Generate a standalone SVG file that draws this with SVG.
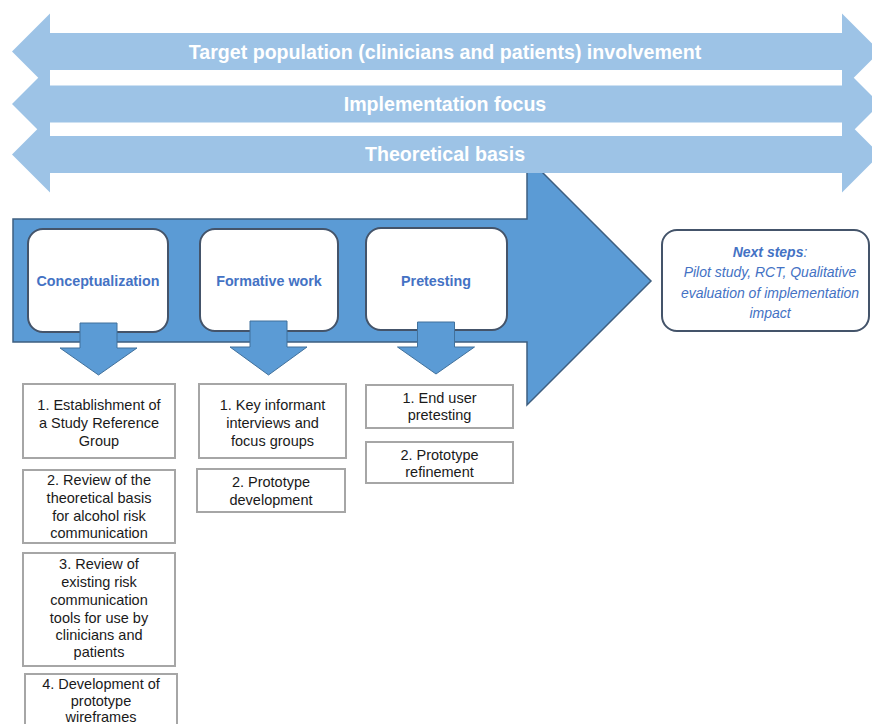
<svg xmlns="http://www.w3.org/2000/svg" width="872" height="724" viewBox="0 0 872 724">
  <style>
    .band { fill: #9dc3e6; }
    .band-label { font-family: "Liberation Sans", Arial, sans-serif; font-size: 19.6px; font-weight: bold; fill: #ffffff; text-anchor: middle; }
    .flow { fill: #5b9bd5; stroke: #3e5f80; stroke-width: 1.5; }
    .stage { fill: #ffffff; stroke: #44546a; stroke-width: 2; }
    .stage-label { font-family: "Liberation Sans", Arial, sans-serif; font-size: 14.3px; font-weight: bold; fill: #4472c4; text-anchor: middle; }
    .down { fill: #5b9bd5; stroke: #41719c; stroke-width: 1; }
    .task { fill: #ffffff; stroke: #a6a6a6; stroke-width: 2; }
    .task-text { font-family: "Liberation Sans", Arial, sans-serif; font-size: 14.5px; fill: #1a1a1a; text-anchor: middle; }
    .next-text { font-family: "Liberation Sans", Arial, sans-serif; font-size: 14px; font-style: italic; fill: #4472c4; text-anchor: middle; }
  </style>

  <rect width="872" height="724" fill="#ffffff"/>

  <!-- main process arrow -->
  <g id="process-arrow">
    <path class="flow" d="M13,219 H527 V157 L651,281 L527,405 V342 H13 Z"/>
  </g>

  <!-- cross-cutting double-headed bands -->
  <g id="band-target">
    <path class="band" d="M12,51.5 L50,13.5 V33 H842 V13.5 L880,51.5 L842,89.5 V70 H50 V89.5 Z"/>
    <text class="band-label" x="445" y="58.5">Target population (clinicians and patients) involvement</text>
  </g>
  <g id="band-implementation">
    <path class="band" d="M12,104 L50,66 V85.5 H842 V66 L880,104 L842,142 V122.5 H50 V142 Z"/>
    <text class="band-label" x="445" y="111">Implementation focus</text>
  </g>
  <g id="band-theory">
    <path class="band" d="M12,154.5 L50,116.5 V136 H842 V116.5 L880,154.5 L842,192.5 V173 H50 V192.5 Z"/>
    <text class="band-label" x="445" y="161">Theoretical basis</text>
  </g>

  <!-- stages -->
  <g id="stage-conceptualization">
    <rect class="stage" x="28" y="229" width="140" height="103" rx="15"/>
    <text class="stage-label" x="98" y="286">Conceptualization</text>
  </g>
  <g id="stage-formative">
    <rect class="stage" x="200" y="229" width="138" height="102" rx="15"/>
    <text class="stage-label" x="269" y="286">Formative work</text>
  </g>
  <g id="stage-pretesting">
    <rect class="stage" x="366" y="228" width="141" height="102" rx="15"/>
    <text class="stage-label" x="436" y="286">Pretesting</text>
  </g>
  <g id="next-steps">
    <rect class="stage" x="662" y="230" width="207" height="101" rx="15"/>
    <text class="next-text" x="770" y="257"><tspan font-weight="bold">Next steps</tspan>:</text>
    <text class="next-text" x="770" y="277">Pilot study, RCT, Qualitative</text>
    <text class="next-text" x="770" y="298">evaluation of implementation</text>
    <text class="next-text" x="770" y="318">impact</text>
  </g>

  <!-- connectors: stage to task lists -->
  <g id="connectors">
    <path class="down" d="M80,323 H117 V348 H137 L98.5,375 L60,348 H80 Z"/>
    <path class="down" d="M250,321 H287 V347 H307 L268.5,375 L230,347 H250 Z"/>
    <path class="down" d="M417.5,322 H454.5 V347 H474.5 L436,374 L397.5,347 H417.5 Z"/>
  </g>

  <!-- conceptualization tasks -->
  <g id="task-c1">
    <rect class="task" x="23" y="384" width="152" height="74"/>
    <text class="task-text" x="99" y="410">1. Establishment of</text>
    <text class="task-text" x="99" y="428">a Study Reference</text>
    <text class="task-text" x="99" y="446">Group</text>
  </g>
  <g id="task-c2">
    <rect class="task" x="23" y="470" width="152" height="73"/>
    <text class="task-text" x="99" y="485">2. Review of the</text>
    <text class="task-text" x="99" y="503">theoretical basis</text>
    <text class="task-text" x="99" y="520.5">for alcohol risk</text>
    <text class="task-text" x="99" y="538">communication</text>
  </g>
  <g id="task-c3">
    <rect class="task" x="23" y="553" width="152" height="113"/>
    <text class="task-text" x="99" y="569">3. Review of</text>
    <text class="task-text" x="99" y="587">existing risk</text>
    <text class="task-text" x="99" y="605">communication</text>
    <text class="task-text" x="99" y="623">tools for use by</text>
    <text class="task-text" x="99" y="640">clinicians and</text>
    <text class="task-text" x="99" y="657">patients</text>
  </g>
  <g id="task-c4">
    <rect class="task" x="25" y="674" width="152" height="70"/>
    <text class="task-text" x="101" y="689">4. Development of</text>
    <text class="task-text" x="101" y="706">prototype</text>
    <text class="task-text" x="101" y="722">wireframes</text>
  </g>

  <!-- formative work tasks -->
  <g id="task-f1">
    <rect class="task" x="199" y="384" width="147" height="74"/>
    <text class="task-text" x="272.5" y="410">1. Key informant</text>
    <text class="task-text" x="272.5" y="428">interviews and</text>
    <text class="task-text" x="272.5" y="446">focus groups</text>
  </g>
  <g id="task-f2">
    <rect class="task" x="197" y="469" width="148" height="43"/>
    <text class="task-text" x="271" y="487">2. Prototype</text>
    <text class="task-text" x="271" y="505">development</text>
  </g>

  <!-- pretesting tasks -->
  <g id="task-p1">
    <rect class="task" x="366" y="385" width="147" height="43"/>
    <text class="task-text" x="439.5" y="403">1. End user</text>
    <text class="task-text" x="439.5" y="420">pretesting</text>
  </g>
  <g id="task-p2">
    <rect class="task" x="366" y="442" width="147" height="41"/>
    <text class="task-text" x="439.5" y="460">2. Prototype</text>
    <text class="task-text" x="439.5" y="477">refinement</text>
  </g>
</svg>
